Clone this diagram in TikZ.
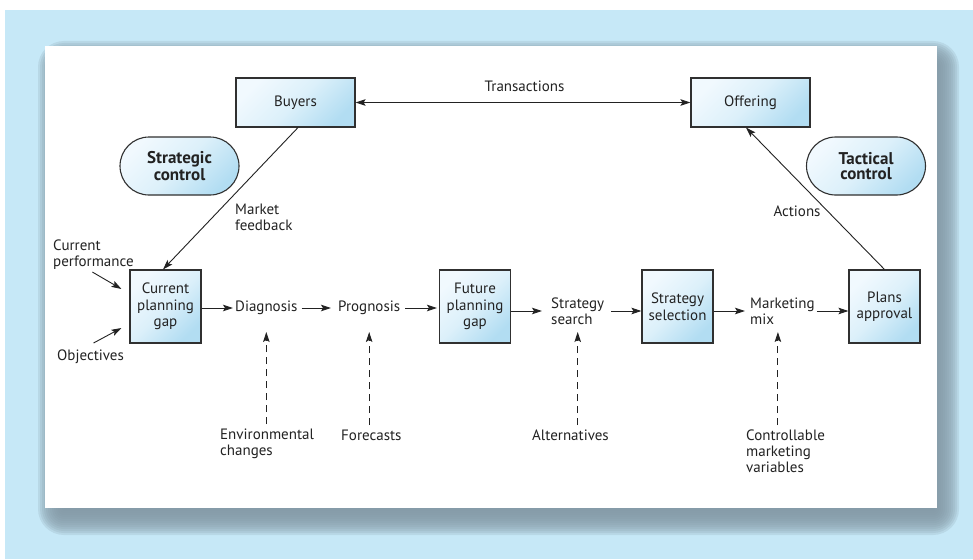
\documentclass[tikz,border=0pt]{standalone}
\usepackage{fontspec}
\setmainfont{PT Sans}
\usetikzlibrary{arrows.meta,calc}

\definecolor{backdrop}{HTML}{C6E8F7}
\definecolor{shadowgray}{HTML}{8499A6}
\definecolor{boxlight}{HTML}{F1F9FE}
\definecolor{boxmid}{HTML}{DCF0FA}
\definecolor{boxdark}{HTML}{B2DDF2}
\definecolor{ink}{HTML}{222222}
\definecolor{edge}{HTML}{303030}

\tikzset{
  >={Stealth[length=10pt,width=6.5pt,inset=2pt]},
  link/.style={draw=ink, line width=0.9pt},
  dashlink/.style={draw=ink, line width=0.9pt, dash pattern=on 7pt off 5pt},
  lbl/.style={font=\fontsize{15}{16}\selectfont, text=ink, inner sep=2pt, align=left},
  blueshade/.style={top color=boxlight, bottom color=boxdark, middle color=boxmid, shading angle=45},
  widebox/.style={blueshade, draw=edge, line width=1.1pt, minimum width=119pt, minimum height=49pt,
    inner sep=0pt, font=\fontsize{15}{16}\selectfont, text=ink},
  gapbox/.style={blueshade, draw=edge, line width=1.1pt, minimum width=71pt, minimum height=73pt,
    inner sep=0pt, align=center, font=\fontsize{15}{16.5}\selectfont, text=ink},
  pill/.style={blueshade, draw=edge, line width=1.1pt, rounded corners=29pt, minimum width=119pt,
    minimum height=58pt, inner sep=0pt, align=center, font=\fontsize{17}{15.5}\selectfont\bfseries, text=ink},
}

\begin{document}
\begin{tikzpicture}[x=1pt,y=-1pt]
\useasboundingbox (0,0) rectangle (973,559);

% coloured backdrop
\fill[backdrop] (5,10) rectangle (973,559);

% soft drop shadow behind the sheet
\foreach \e in {-14,-12,...,14} {
  \pgfmathsetmacro\rr{max(1,12+\e)}
  \fill[shadowgray, opacity=0.2, rounded corners=\rr pt]
    (52-\e,55-\e) rectangle (945+\e,521+\e);
}

% white sheet
\fill[white] (45,46) rectangle (937,508);

% top row
\node[widebox] (buyers) at (295.5,102.5) {Buyers};
\node[widebox] (offering) at (750.5,102.5) {Offering};
\node[lbl] (trans) at (524.5,86) {Transactions};
\draw[link,<->] (buyers.east) -- (offering.west);

% control labels
\node[pill] (strat) at (179.5,166) {Strategic\\control};
\node[pill] (tact) at (866,166) {Tactical\\control};

% planning chain
\node[gapbox] (cpg) at (165.5,306.5) {Current\\planning\\gap};
\node[lbl, anchor=west] (diag) at (233,308) {Diagnosis};
\node[lbl, anchor=west] (prog) at (336,308) {Prognosis};
\node[gapbox] (fpg) at (475,306.5) {Future\\planning\\gap};
\node[lbl, anchor=west] (search) at (549,311) {Strategy\\search};
\node[gapbox] (sel) at (677.5,306.5) {Strategy\\selection};
\node[lbl, anchor=west] (mix) at (748,311) {Marketing\\mix};
\node[gapbox] (plans) at (884.5,306.5) {Plans\\approval};

\draw[link,->] (cpg.east |- diag.west) -- (diag.west);
\draw[link,->, shorten <=2pt, shorten >=5pt] (diag.east) -- (prog.west);
\draw[link,->, shorten <=3pt, shorten >=2pt] (prog.east) -- (fpg.west |- prog.east);
\draw[link,->, shorten >=7pt] (fpg.east |- search.west) -- (search.west);
\draw[link,->, shorten <=5pt] (search.east) -- (sel.west |- search.east);
\draw[link,->, shorten >=3pt] (sel.east |- mix.west) -- (mix.west);
\draw[link,->] (mix.east) -- (plans.west |- mix.east);

% feedback and actions
\node[lbl, anchor=north west] (feedback) at (233,202) {Market\\feedback};
\node[lbl] (actions) at (797,211) {Actions};
\draw[link,->] ([xshift=2.5pt]buyers.south) -- ([xshift=-2.5pt]cpg.north);
\draw[link,->] (plans.north) -- ([xshift=-4.5pt]offering.south);

% inputs to the current planning gap
\node[lbl, anchor=north west] (perf) at (51,238) {Current\\performance};
\node[lbl, anchor=north west] (obj) at (55,348) {Objectives};
\coordinate (perftip) at ($(cpg.west)+(-8,-17.5)$);
\coordinate (objtip) at ($(cpg.west)+(-8,21.5)$);
\draw[link,->] ([xshift=-1pt]perf.south) -- (perftip);
\draw[link,->] ([xshift=3pt,yshift=5pt]obj.north) -- (objtip);

% external influences
\node[lbl, anchor=north west] (env) at (218,427) {Environmental\\changes};
\node[lbl, anchor=north west] (fore) at (339,428) {Forecasts};
\node[lbl, anchor=north west] (alt) at (530,428) {Alternatives};
\node[lbl, anchor=north west] (ctrl) at (744,428) {Controllable\\marketing\\variables};
\coordinate (tiprow) at (0,332);
\coordinate (mixfoot) at ([xshift=-4.5pt]mix.south);

\draw[dashlink,->, shorten <=3pt] (diag.south |- env.north) -- (diag.south |- tiprow);
\draw[dashlink,->, shorten <=3pt] (prog.south |- fore.north) -- (prog.south |- tiprow);
\draw[dashlink,->, shorten <=3pt] (search.south |- alt.north) -- (search.south |- tiprow);
\draw[dashlink,->, shorten <=3pt] (mixfoot |- ctrl.north) -- (mixfoot |- tiprow);
\end{tikzpicture}
\end{document}
